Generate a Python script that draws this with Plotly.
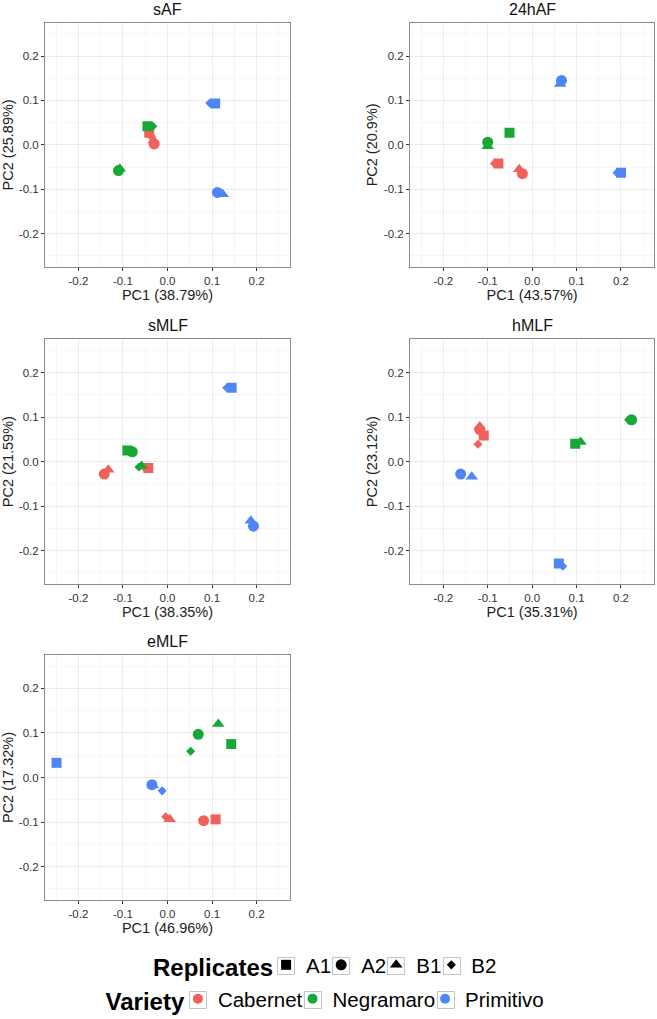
import plotly.graph_objects as go

# ---------------- data ----------------
panels = ["sAF", "24hAF", "sMLF", "hMLF", "eMLF"]
pc1_pct = ["38.79%", "43.57%", "38.35%", "35.31%", "46.96%"]
pc2_pct = ["25.89%", "20.9%", "21.59%", "23.12%", "17.32%"]
varieties = ["Cabernet", "Negramaro", "Primitivo"]
replicates = ["A1", "A2", "B1", "B2"]
tick_vals = [-0.2, -0.1, 0.0, 0.1, 0.2]
tick_text = ["-0.2", "-0.1", "0.0", "0.1", "0.2"]

# order: Cabernet A1,A2,B1,B2 | Negramaro A1,A2,B1,B2 | Primitivo A1,A2,B1,B2
sAF_pc1 = [-0.041, -0.030, -0.031, -0.036, -0.045, -0.110, -0.107, -0.033, 0.107, 0.112, 0.124, 0.095]
sAF_pc2 = [0.027, 0.002, 0.010, 0.018, 0.042, -0.058, -0.054, 0.042, 0.093, -0.107, -0.111, 0.094]

h24AF_pc1 = [-0.076, -0.022, -0.029, -0.085, -0.051, -0.100, -0.100, -0.100, 0.200, 0.066, 0.063, 0.191]
h24AF_pc2 = [-0.042, -0.065, -0.055, -0.042, 0.027, 0.006, -0.003, 0.002, -0.063, 0.145, 0.137, -0.063]

sMLF_pc1 = [-0.043, -0.142, -0.133, -0.049, -0.090, -0.079, -0.058, -0.064, 0.144, 0.193, 0.187, 0.133]
sMLF_pc2 = [-0.014, -0.028, -0.018, -0.016, 0.025, 0.022, -0.010, -0.012, 0.166, -0.145, -0.133, 0.166]

hMLF_pc1 = [-0.109, -0.118, -0.118, -0.122, 0.097, 0.224, 0.109, 0.217, 0.060, -0.161, -0.136, 0.069]
hMLF_pc2 = [0.059, 0.072, 0.079, 0.039, 0.040, 0.094, 0.044, 0.094, -0.229, -0.028, -0.034, -0.235]

eMLF_pc1 = [0.108, 0.081, 0.005, -0.004, 0.143, 0.069, 0.114, 0.052, -0.249, -0.035, -0.033, -0.012]
eMLF_pc2 = [-0.094, -0.097, -0.094, -0.088, 0.075, 0.097, 0.120, 0.059, 0.033, -0.016, -0.018, -0.030]

panel_pc1 = [sAF_pc1, h24AF_pc1, sMLF_pc1, hMLF_pc1, eMLF_pc1]
panel_pc2 = [sAF_pc2, h24AF_pc2, sMLF_pc2, hMLF_pc2, eMLF_pc2]

# ---------------- styles ----------------
W, H = 657, 1019
colors = {"Cabernet": "#F0605D", "Negramaro": "#16A836", "Primitivo": "#4F86F6"}
symbols = {"A1": "square", "A2": "circle", "B1": "triangle-up", "B2": "diamond"}
sizes = {"A1": 10, "A2": 11, "B1": 11, "B2": 7}
FONT = "Liberation Sans, Arial, Helvetica, sans-serif"

# panel pixel boxes: (left, right, top, bottom)
boxes = [
    (45, 290, 22.7, 267),
    (410, 654.3, 22.7, 267),
    (45, 290, 339.3, 584),
    (410, 654.3, 339.3, 584),
    (45, 290, 655, 900),
]
# legend rows (pixel y centres) and key-box centres (pixel x)
leg1_y, leg2_y = 966, 1000
key1_x = [286, 341, 396, 452]
key2_x = [198, 313, 446]
KEY = 17

fig = go.Figure()
annotations = []
shapes = []

for i, name in enumerate(panels):
    ax = "" if i == 0 else str(i + 1)
    xs, ys = panel_pc1[i], panel_pc2[i]
    for vi, v in enumerate(varieties):
        idx = list(range(vi * 4, vi * 4 + 4))
        fig.add_trace(go.Scatter(
            x=[xs[k] for k in idx], y=[ys[k] for k in idx],
            mode="markers",
            marker=dict(color=colors[v], opacity=1,
                        symbol=[symbols[r] for r in replicates],
                        size=[sizes[r] for r in replicates],
                        line=dict(width=0)),
            xaxis="x" + ax, yaxis="y" + ax, showlegend=False,
            name=v, hoverinfo="x+y+name",
        ))
    l, r, t, b = boxes[i]
    axis_common = dict(
        range=[-0.275, 0.275], tickvals=tick_vals, ticktext=tick_text,
        showgrid=True, gridcolor="#EBEBEB", gridwidth=1,
        minor=dict(dtick=0.05, tick0=0, showgrid=True, gridcolor="#F6F6F6", gridwidth=1, ticks=""),
        zeroline=False, showline=True, linecolor="#8C8C8C", linewidth=1, mirror=True,
        ticks="outside", ticklen=3, tickcolor="#333333", tickwidth=1,
        tickfont=dict(size=11.5, color="#333333", family=FONT),
        automargin=False,
    )
    fig.update_layout(**{
        "xaxis" + ax: dict(axis_common, domain=[l / W, r / W], anchor="y" + ax,
                          title=dict(text="PC1 (%s)" % pc1_pct[i], font=dict(size=14.5, color="#222222", family=FONT), standoff=2)),
        "yaxis" + ax: dict(axis_common, domain=[1 - b / H, 1 - t / H], anchor="x" + ax,
                          title=dict(text="PC2 (%s)" % pc2_pct[i], font=dict(size=14.5, color="#222222", family=FONT), standoff=2)),
    })
    annotations.append(dict(
        text=name, x=(l + r) / 2 / W, y=1 - 9.5 / H if t < 30 else 1 - (t - 13.5) / H,
        xref="paper", yref="paper",
        xanchor="center", yanchor="middle", showarrow=False,
        font=dict(size=16, color="#111111", family=FONT),
    ))

# legend key boxes
for cy, cxs in ((leg1_y, key1_x), (leg2_y, key2_x)):
    for cx in cxs:
        shapes.append(dict(
            type="rect", xref="paper", yref="paper",
            x0=(cx - KEY / 2) / W, x1=(cx + KEY / 2) / W,
            y0=1 - (cy + KEY / 2) / H, y1=1 - (cy - KEY / 2) / H,
            line=dict(color="#C4C4C4", width=1), fillcolor="rgba(0,0,0,0)",
        ))

# legend entries
for r in replicates:
    fig.add_trace(go.Scatter(
        x=[None], y=[None], mode="markers", name=r, legend="legend",
        marker=dict(color="black", symbol=symbols[r], size=sizes[r]),
    ))
for v in varieties:
    fig.add_trace(go.Scatter(
        x=[None], y=[None], mode="markers", name=v, legend="legend2",
        marker=dict(color=colors[v], symbol="circle", size=10),
    ))

fig.update_layout(
    width=W, height=H,
    margin=dict(l=0, r=0, t=0, b=0, autoexpand=False),
    paper_bgcolor="white", plot_bgcolor="white",
    font=dict(family=FONT, color="#111111"),
    annotations=annotations,
    shapes=shapes,
    legend=dict(
        orientation="h", x=0.497, xanchor="center", y=1 - leg1_y / H, yanchor="middle",
        title=dict(text="<b>Replicates</b>", side="left", font=dict(size=24, color="black")),
        font=dict(size=20.5, color="black"), itemwidth=30, indentation=-15,
        bgcolor="rgba(0,0,0,0)",
    ),
    legend2=dict(
        orientation="h", x=0.497, xanchor="center", y=1 - leg2_y / H, yanchor="middle",
        title=dict(text="<b>Variety</b>", side="left", font=dict(size=24, color="black")),
        font=dict(size=20.5, color="black"), itemwidth=30, indentation=-15,
        bgcolor="rgba(0,0,0,0)",
    ),
)

fig.write_html(
    "out.html",
    config={"displayModeBar": False},
    post_script="document.body.style.margin='0';document.body.style.padding='0';",
)
